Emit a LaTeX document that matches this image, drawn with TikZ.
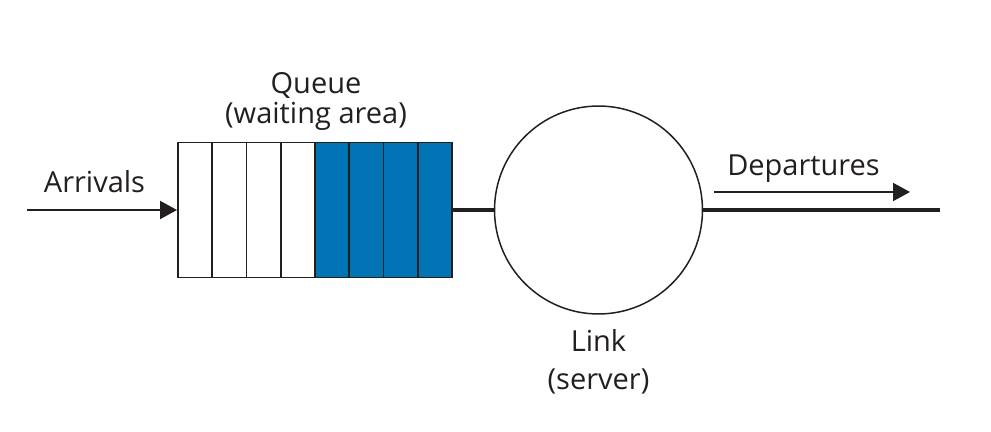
\documentclass[tikz,border=0pt]{standalone}
\usepackage{fontspec}
\setmainfont{Open Sans}
\usetikzlibrary{arrows.meta}
\definecolor{queueblue}{RGB}{0,116,180}
\definecolor{inkblack}{RGB}{35,31,32}
\begin{document}
\begin{tikzpicture}[
	x=0.02cm,y=-0.02cm,
	>={Triangle[length=0.34cm,width=0.36cm]},
	line cap=butt,
	line join=miter,
	font=\fontsize{16.5}{17.5}\selectfont,
	text=inkblack,
	cell/.style={draw=inkblack,line width=1.1pt,minimum width=0.685cm,minimum height=2.7cm,inner sep=0pt},
	wire/.style={draw=inkblack,line width=2.3pt},
	label/.style={inner sep=0pt,align=center}
	]
	\useasboundingbox (0,0) rectangle (991,432);
	% queue cells
	\foreach \i in {0,...,7} {
		\ifnum\i<4
			\node[cell,fill=white] (cell\i) at ({178+34.25*(\i+0.5)},210) {};
		\else
			\node[cell,fill=queueblue] (cell\i) at ({178+34.25*(\i+0.5)},210) {};
		\fi
	}
	\node[circle,draw=inkblack,line width=0.85pt,minimum size=4.16cm,inner sep=0pt] (link) at (598.5,210) {};
	\coordinate (arrin) at (27,210);
	\coordinate (out) at (940,210);
	\coordinate (depstart) at (714,192);
	\coordinate (depend) at (910,192);
	\node[label,anchor=base] (arrivals) at (94.5,192.5) {Arrivals};
	\node[label,anchor=base] (departures) at (803.5,176) {Departures};
	\node[label,anchor=base] (queue) at (316,124) {Queue\\(waiting area)};
	\node[label,anchor=base] (server) at (598.5,389) {Link\\[4pt](server)};
	\draw[wire] (cell7.east) -- (link.west);
	\draw[wire] (link.east) -- (out);
	\begin{scope}[->,draw=inkblack,line width=1.1pt]
		\draw (arrin) -- (cell0.west);
		\draw (depstart) -- (depend);
	\end{scope}
\end{tikzpicture}
\end{document}
